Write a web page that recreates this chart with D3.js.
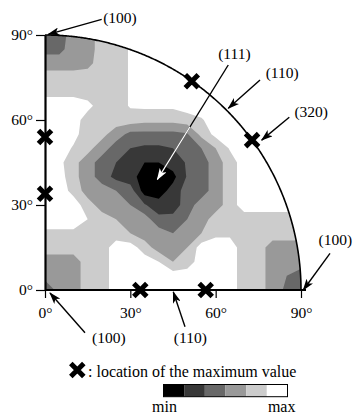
<!DOCTYPE html>
<html>
<head>
<meta charset="utf-8">
<script src="https://cdn.jsdelivr.net/npm/d3@7"></script>
<style>
  body { margin: 0; background: #fff; }
</style>
</head>
<body>
<svg id="drawing_region"></svg>
<script>
// grid of levels: 0 = min (black) .. 5 = max (white)
// one row per 5 deg of the vertical angle (0 deg at the bottom), one column per 5 deg of the horizontal angle
const step = 5;
const levels = [
  [1.5,3,3,4,4,5,5,5,5,5,5,5,5,5,4,4,3,2.3,2],
  [3,3,3,4,4,5,5,5,5,5,5,5,5,5,4,4,3,2.5,2],
  [3,3,3,4,4,5,5,5,4.5,3.5,4,5,5,5,4,4,3,3,3],
  [4,4,4,4,4,5,5,4,3,3,3.5,5,5,5,4,4,3,3,3],
  [4.3,4.3,4.3,4.3,4,4,3.5,3,3,2.5,3,3.5,4.3,4.3,4,4,4,4,4],
  [5,5,5,4.5,4,3.5,3,3,1.8,1.8,2.5,3,4,4,4,4,4,4,4],
  [5,5,5,4,3,3,2.5,1.6,0.9,1,2,3,3,4,5,5,5,5,5],
  [5,5,4.2,3,3,2.5,2,0,0,0.9,2,2,3,4,5,5,5,5,5],
  [5,5,3.8,3,2,1.2,0.9,0,0,0.2,1.6,2,3,4,5,5,5,5,5],
  [5,4.8,3.8,3,2,1.5,1,0.5,0.5,1,1.6,2,3,4,5,5,5,5,5],
  [5,5,4.4,3.8,3,2,1.5,1.3,1.3,1.5,2,2.5,3.5,4.6,5,5,5,5,5],
  [5,5,4.8,4,3.8,3,2.2,2.2,2.2,2.2,2.4,3.8,4.8,5,5,5,5,5,5],
  [5,5,5,4,4,4,4,3.8,3.8,3.8,4,4.4,5,5,5,5,5,5,5],
  [5,5,5,4.8,4,4,4.6,4.7,4.7,4.7,5,5,5,5,5,5,5,5,5],
  [4.2,4.2,4.2,4,4,4,4.6,5,5,5,5,5,5,5,5,5,5,5,5],
  [4,4,4,4,4,4,4.6,5,5,5,5,5,5,5,5,5,5,5,5],
  [3,3,3,3.2,4,4,4.6,5,5,5,5,5,5,5,5,5,5,5,5],
  [2.2,2.2,3,3,4,4,4.6,5,5,5,5,5,5,5,5,5,5,5,5],
  [2,2,3,3,4,4,4.6,5,5,5,5,5,5,5,5,5,5,5,5]
];
const levelColors = ['#000000', '#383838', '#686868', '#999999', '#cccccc', '#ffffff'];
const thresholds = [0.5, 1.5, 2.5, 3.5, 4.5];
const tickValues = [0, 30, 60, 90];
// locations of the maximum value, [horizontal deg, vertical deg]
const maxima = [[0, 54], [0, 34], [33.5, 0], [56.5, 0], [51.6, 73.7], [72.8, 52.9]];
const annoLabels = ['(100)', '(111)', '(110)', '(320)', '(100)', '(100)', '(110)'];
const annoTargets = [[0, 90], [39.5, 39], [63.6, 63.6], [72.8, 52.9], [90, 0], [0, 0], [45, 0]];

var config = {
  parent: '#drawing_region',
  width: 354,
  height: 414,
  origin: {x: 45, y: 290},
  radius: {x: 256, y: 255},
  font: '"Liberation Serif", "DejaVu Serif", serif'
};

// offsets (px) of label centre, arrow start and arrow tip from each target
const annoLayout = [
  {label: [75, -17.5], from: [56.7, -15.7], to: [3.3, -0.7]},
  {label: [77, -126], from: [70.9, -114.5], to: [0, 0]},
  {label: [56.3, -36.5], from: [34.1, -29.8], to: [2.4, -1.5]},
  {label: [59.1, -28.4], from: [37.2, -22.8], to: [9.6, 0]},
  {label: [34.3, -50], from: [29, -36.7], to: [2.3, 0]},
  {label: [63.8, 48.3], from: [40, 42.7], to: [5, 3]},
  {label: [17.3, 48.3], from: [12, 36.7], to: [0.3, 2]}
];

class QuarterMap {
  constructor(config) {
    this.config = config;
    this.init();
  }
  init() {
    let self = this;
    self.svg = d3.select(self.config.parent)
      .attr('width', self.config.width)
      .attr('height', self.config.height)
      .style('font-family', self.config.font)
      .style('font-size', '15.5px');
    self.chart = self.svg.append('g');

    const o = self.config.origin, r = self.config.radius;
    self.xscale = d3.scaleLinear().domain([0, 90]).range([o.x, o.x + r.x]);
    self.yscale = d3.scaleLinear().domain([0, 90]).range([o.y, o.y - r.y]);

    self.line = d3.line()
      .x(d => self.xscale(d[0]))
      .y(d => self.yscale(d[1]));

    const defs = self.svg.append('defs');
    ['black', 'white'].forEach(c => {
      defs.append('marker')
        .attr('id', 'head-' + c)
        .attr('viewBox', '0 0 12 8')
        .attr('refX', 11)
        .attr('refY', 4)
        .attr('markerUnits', 'userSpaceOnUse')
        .attr('markerWidth', 12)
        .attr('markerHeight', 8)
        .attr('orient', 'auto')
        .append('path')
        .attr('d', 'M0,0L12,4L0,8L3,4Z')
        .attr('fill', c);
    });
    self.defs = defs;
  }
  render() {
    let self = this;
    const n = levels[0].length, m = levels.length;
    const values = levels.flat();

    const proj = d3.geoTransform({
      point: function(gx, gy) {
        this.stream.point(self.xscale((gx - 0.5) * step), self.yscale((gy - 0.5) * step));
      }
    });
    const path = d3.geoPath(proj);

    const arcPts = d3.range(0, 90.25, 0.25).map(a => {
      const t = a * Math.PI / 180;
      return [90 * Math.cos(t), 90 * Math.sin(t)];
    });

    self.defs.append('clipPath').attr('id', 'sector')
      .append('path')
      .attr('d', self.line([[0, 0]].concat(arcPts)) + 'Z');

    const darkArea = d3.contours().size([n, m]).thresholds([-3.5])(values.map(v => -v));
    self.defs.append('clipPath').attr('id', 'dark')
      .append('path')
      .attr('d', path(darkArea[0]));

    const field = self.chart.append('g').attr('clip-path', 'url(#sector)');
    field.append('path')
      .attr('d', self.line([[0, 0]].concat(arcPts)) + 'Z')
      .attr('fill', levelColors[0]);
    const bands = d3.contours().size([n, m]).thresholds(thresholds)(values);
    field.selectAll('path.band')
      .data(bands)
      .join('path')
      .attr('class', 'band')
      .attr('d', path)
      .attr('fill', (d, i) => levelColors[i + 1]);

    // rim of the quarter circle
    self.chart.append('path')
      .attr('d', self.line(arcPts))
      .attr('fill', 'none')
      .attr('stroke', 'black')
      .attr('stroke-width', 1.6);

    // axes
    const xaxis = d3.axisBottom(self.xscale).tickValues(tickValues)
      .tickFormat(d => d + '°').tickSize(8).tickPadding(9).tickSizeOuter(0);
    const yaxis = d3.axisLeft(self.yscale).tickValues(tickValues)
      .tickFormat(d => d + '°').tickSize(9).tickPadding(3).tickSizeOuter(0);
    const xg = self.chart.append('g')
      .attr('transform', `translate(0, ${self.yscale(0)})`)
      .call(xaxis);
    const yg = self.chart.append('g')
      .attr('transform', `translate(${self.xscale(0)}, 0)`)
      .call(yaxis);
    [xg, yg].forEach(g => {
      g.attr('font-size', 15.5).attr('font-family', self.config.font);
      g.select('.domain').attr('stroke-width', 2.2);
      g.selectAll('.tick line').attr('stroke-width', 1.2);
    });
    xg.select('.domain').attr('d', `M${self.xscale(0)},0H${self.xscale(90) + 5}`);

    // locations of the maximum value
    const cross = d3.symbol(d3.symbolX, 112);
    self.chart.selectAll('path.maxima')
      .data(maxima)
      .join('path')
      .attr('class', 'maxima')
      .attr('transform', d => `translate(${self.xscale(d[0])}, ${self.yscale(d[1])})`)
      .attr('d', cross)
      .attr('fill', 'none')
      .attr('stroke', 'black')
      .attr('stroke-width', 5);

    // annotations
    const anno = annoTargets.map((t, i) => ({
      text: annoLabels[i],
      x: self.xscale(t[0]),
      y: self.yscale(t[1]),
      lay: annoLayout[i]
    }));
    const seg = d => `M${d.x + d.lay.from[0]},${d.y + d.lay.from[1]}L${d.x + d.lay.to[0]},${d.y + d.lay.to[1]}`;
    self.chart.selectAll('path.arrow')
      .data(anno)
      .join('path')
      .attr('class', 'arrow')
      .attr('d', seg)
      .attr('stroke', 'black')
      .attr('stroke-width', 1.4)
      .attr('fill', 'none')
      .attr('marker-end', 'url(#head-black)');
    // the (111) arrow turns white over the dark part of the map
    self.chart.append('g').attr('clip-path', 'url(#dark)')
      .append('path')
      .attr('d', seg(anno[1]))
      .attr('stroke', 'white')
      .attr('stroke-width', 1.4)
      .attr('fill', 'none')
      .attr('marker-end', 'url(#head-white)');
    self.chart.selectAll('text.anno')
      .data(anno)
      .join('text')
      .attr('class', 'anno')
      .attr('x', d => d.x + d.lay.label[0])
      .attr('y', d => d.y + d.lay.label[1])
      .attr('dy', '0.33em')
      .attr('text-anchor', 'middle')
      .text(d => d.text);

    // legend
    const legend = self.svg.append('g').style('font-size', '16px');
    legend.append('path')
      .attr('transform', 'translate(77.3, 370)')
      .attr('d', cross)
      .attr('fill', 'none')
      .attr('stroke', 'black')
      .attr('stroke-width', 5);
    legend.append('text')
      .attr('x', 88)
      .attr('y', 376.5)
      .text(': location of the maximum value');

    const cscale = d3.scaleBand().domain(d3.range(levelColors.length)).range([163.5, 287.5]);
    legend.selectAll('rect.key')
      .data(levelColors)
      .join('rect')
      .attr('class', 'key')
      .attr('x', (d, i) => cscale(i))
      .attr('y', 384.5)
      .attr('width', cscale.bandwidth())
      .attr('height', 12.2)
      .attr('fill', d => d);
    legend.append('rect')
      .attr('x', 163.5).attr('y', 384.5)
      .attr('width', 124).attr('height', 12.2)
      .attr('fill', 'none').attr('stroke', 'black').attr('stroke-width', 1);
    legend.append('text').attr('x', 164.5).attr('y', 411.5)
      .attr('text-anchor', 'middle').text('min');
    legend.append('text').attr('x', 281.7).attr('y', 411.5)
      .attr('text-anchor', 'middle').text('max');
  }
}

const map = new QuarterMap(config);
map.render();
</script>
</body>
</html>
